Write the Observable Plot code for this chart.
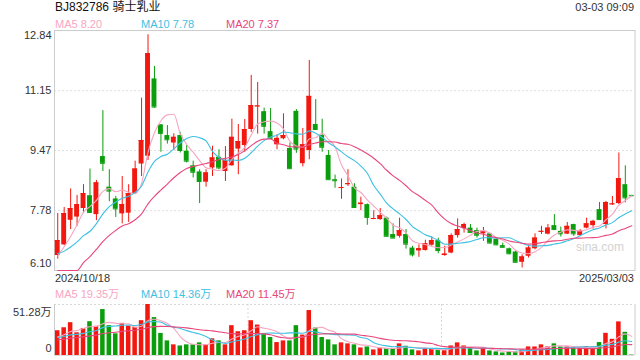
<!DOCTYPE html>
<html><head><meta charset="utf-8">
<script src="https://cdn.jsdelivr.net/npm/d3@7"></script>
<script src="https://cdn.jsdelivr.net/npm/@observablehq/plot@0.6"></script>
<style>
body{margin:0;background:#fff;}
#wrap{position:relative;width:640px;height:360px;overflow:hidden;background:#fff;}
#wrap svg{position:absolute;left:0;}
</style></head><body><div id="wrap"></div>
<script>
// ---- data ----
const opens  = [6.52,6.82,7.51,7.60,7.84,8.20,7.67,9.30,8.44,8.11, 7.69,7.71,8.26,9.09,9.31,11.48,10.19,9.89,9.68,9.89, 9.45,9.04,8.87,8.58,8.98,9.28,8.88,9.04,9.51,9.61, 10.06,10.70,10.56,10.00,9.63,9.80,9.53,10.57,9.10,9.47, 10.20,9.89,9.33,8.65,8.41,8.51,8.44,7.95,7.95,7.54, 7.53,7.57,7.11,7.06,7.11,6.73,6.65,6.66,6.81,6.94, 6.52,6.59,7.08,7.28,7.29,7.22,7.13,7.13,6.97,6.80, 6.71,6.62,6.33,6.50,6.71,7.18,7.12,7.36,7.20,7.12, 7.39,7.08,7.29,7.36,7.81,7.39,7.95,7.98,8.51,8.21];
const highs  = [7.70,7.87,8.39,8.21,8.51,8.95,8.63,10.59,8.93,8.18, 8.74,8.51,9.17,10.94,12.72,11.83,10.20,10.17,9.94,9.98, 9.61,9.17,8.93,8.93,9.59,9.49,9.58,10.35,10.20,10.34, 11.58,11.38,10.66,10.65,9.91,10.50,9.68,10.62,10.09,12.00, 10.90,10.35,9.47,8.78,8.67,8.93,8.54,8.16,7.97,7.78, 7.84,7.60,7.41,7.57,7.25,6.78,6.82,6.95,7.04,7.01, 6.78,7.13,7.55,7.43,7.39,7.29,7.31,7.15,6.98,6.87, 6.73,6.64,6.54,6.80,7.13,7.34,7.39,7.67,7.32,7.45, 7.40,7.25,7.57,7.51,8.01,8.04,8.18,9.40,9.04,8.21];
const lows   = [6.42,6.80,7.25,7.34,7.71,7.71,7.50,8.88,8.03,7.59, 7.41,7.45,8.23,8.74,9.19,10.66,9.42,9.65,9.47,9.40, 9.12,8.70,7.98,8.44,8.74,8.93,8.60,9.03,8.79,9.42, 9.98,9.93,9.93,9.79,9.49,9.77,8.95,9.39,9.01,9.21, 10.05,9.42,8.64,8.41,8.10,8.46,7.85,7.78,7.37,7.53, 7.51,7.05,7.00,7.01,6.70,6.48,6.47,6.65,6.78,6.57, 6.50,6.57,7.01,7.15,7.15,7.01,6.92,6.85,6.80,6.74, 6.54,6.31,6.17,6.45,6.68,7.11,7.10,7.23,7.04,7.11, 7.06,7.06,7.27,7.26,7.51,7.27,7.93,7.95,8.00,8.19];
const closes = [6.94,7.70,7.84,7.95,8.26,7.73,8.56,9.11,8.33,7.83, 7.95,8.26,8.95,9.75,12.19,10.69,9.95,9.77,9.84,9.47, 9.17,8.86,8.60,8.84,9.26,8.98,9.18,9.84,9.72,10.06, 10.73,10.72,10.15,9.81,9.81,9.89,8.96,9.51,9.63,10.99, 10.06,9.56,8.65,8.62,8.43,8.54,7.87,7.99,7.59,7.56, 7.64,7.06,7.01,7.22,6.84,6.54,6.71,6.85,6.94,6.66, 6.56,7.08,7.25,7.39,7.17,7.09,7.20,6.87,6.82,6.75, 6.57,6.33,6.48,6.73,7.01,7.20,7.29,7.25,7.13,7.34, 7.13,7.20,7.41,7.48,7.53,8.01,7.97,8.68,8.14,8.20];
// volumes in 万 shares
const volumes = [24.9,27.9,33.0,22.8,27.2,34.0,29.3,46.2,30.0,21.8, 32.3,29.6,28.3,35.0,51.28,38.1,22.2,14.7,10.7,9.6, 10.7,10.7,12.7,10.7,16.8,14.7,10.7,30.0,23.9,24.9, 35.0,30.6,22.2,18.1,13.0,14.7,14.7,30.0,20.5,45.2, 27.6,18.1,15.7,10.7,12.7,11.7,10.7,7.6,8.6,5.6, 6.9,6.9,6.9,11.7,9.3,5.6,4.6,6.9,6.9,5.6, 4.9,9.6,12.7,9.6,6.9,4.6,6.9,4.6,3.6,2.5, 3.6,3.6,5.6,8.6,8.6,10.7,8.6,11.7,8.6,8.6, 7.2,7.2,8.9,8.4,13.0,22.3,16.3,33.8,23.3,0.45];
// closes / volumes before the first visible day (estimated from where the MA lines start)
const priorCloses  = [4.0,4.0,4.0,3.8,4.3,4.5,4.8,4.8,5.0,5.5, 7.0,6.7,6.5,6.5,6.5,6.4,6.4,6.3,6.5];
const priorVolumes = [12,12,13,13,14,13,14,14,14,14, 16,17,18,17,18,17,17,18,17];
const yTicks = [12.84, 11.15, 9.47, 7.78, 6.10];
const volTicks = [51.28, 0];
const volTickLabels = ["51.28万", "0"];
const dateLabels = ["2024/10/18", "2025/03/03"];
const title = "BJ832786 骑士乳业";
const timeLabel = "03-03 09:09";
const priceLegend = [["MA5", "8.20"], ["MA10", "7.78"], ["MA20", "7.37"]];
const volLegend = [["MA5", "19.35万"], ["MA10", "14.36万"], ["MA20", "11.45万"]];
const maPeriods = [5, 10, 20];
const watermark = "sina.com";

// ---- style ----
const FONT = '"Liberation Sans", Arial, "Noto Sans CJK SC", sans-serif';
const RED = "#f2180f", GREEN = "#0a9e0c";
const MA_COLORS = ["#f7a6c2", "#3ec1e2", "#e9467c"];
const HW = 0.38;
const N = closes.length;

const candles = closes.map((c, i) => ({i, open: opens[i], high: highs[i], low: lows[i], close: c, vol: volumes[i]}));
const colorOf = d => d.close >= d.open ? RED : GREEN;
const priceSeries = [...priorCloses.map((c, k) => ({i: k - priorCloses.length, close: c})), ...candles];
const volSeries = [...priorVolumes.map((v, k) => ({i: k - priorVolumes.length, vol: v})), ...candles];

function onlyVisible(opts) {
  const t = opts.transform;
  return {...opts, transform(data, facets, o) {
    const r = t ? t(data, facets, o) : {data, facets};
    return {data: r.data, facets: r.facets.map(f => Array.from(f).filter(j => r.data[j].i >= 0))};
  }};
}
function maLines(series, field) {
  return maPeriods.map((k, n) => Plot.lineY(series, onlyVisible(Plot.windowY({k, anchor: "end"}, {
    x: "i", y: field, stroke: MA_COLORS[n], strokeWidth: 1.1, curve: "monotone-x"
  }))));
}

const wrap = document.getElementById("wrap");

// ---- price panel ----
const price = Plot.plot({
  width: 640, height: 270, marginTop: 30, marginBottom: 0, marginLeft: 54, marginRight: 5.5,
  x: {domain: [-0.5, N - 0.5], axis: null},
  y: {domain: [yTicks[yTicks.length - 1], yTicks[0]], clamp: true, axis: null},
  color: {type: "identity"},
  style: {fontFamily: FONT, fontSize: "11px", color: "#333", background: "transparent", overflow: "visible"},
  marks: [
    Plot.ruleY(yTicks.slice(1, -1), {stroke: "#e0e0e0", strokeDasharray: "2,2"}),
    Plot.frame({stroke: "#cccccc"}),
    Plot.ruleX(candles, {x: "i", y1: "low", y2: "high", stroke: colorOf, strokeWidth: 1}),
    Plot.rect(candles, {x1: d => d.i - HW, x2: d => d.i + HW, y1: "open", y2: "close", fill: colorOf}),
    Plot.ruleY(candles, {y: "close", x1: d => d.i - HW, x2: d => d.i + HW, stroke: colorOf}),
    ...maLines(priceSeries, "close"),
    Plot.text(yTicks.slice(1, -1), {y: d => d, text: d => d.toFixed(2), frameAnchor: "left", textAnchor: "end", dx: -3, fill: "#333"}),
    Plot.text([yTicks[0]], {y: d => d, text: d => d.toFixed(2), frameAnchor: "left", textAnchor: "end", dx: -3, dy: 5, fill: "#333"}),
    Plot.text([yTicks[yTicks.length - 1]], {y: d => d, text: d => d.toFixed(2), frameAnchor: "left", textAnchor: "end", dx: -3, dy: -7, fill: "#333"}),
    Plot.text([watermark], {text: d => d, frameAnchor: "bottom-right", textAnchor: "end", dx: -11, dy: -20, fill: "#d2d2d2", fontSize: 12})
  ]
});
price.style.top = "0px";
wrap.appendChild(price);

// ---- volume panel ----
const vol = Plot.plot({
  width: 640, height: 75, marginTop: 19, marginBottom: 5, marginLeft: 54, marginRight: 5.5,
  x: {domain: [-0.5, N - 0.5], axis: null},
  y: {domain: [0, volTicks[0]], clamp: true, axis: null},
  color: {type: "identity"},
  style: {fontFamily: FONT, fontSize: "11px", color: "#333", background: "transparent", overflow: "visible"},
  marks: [
    Plot.ruleX([29.5, 59.5], {stroke: "#d8d8d8", strokeDasharray: "2,2"}),
    Plot.ruleY([volTicks[0]], {stroke: "#d8d8d8", strokeDasharray: "2,2"}),
    Plot.ruleX([-0.5, N - 0.5], {stroke: "#cccccc"}),
    Plot.rect(candles, {x1: d => d.i - 0.35, x2: d => d.i + 0.35, y1: 0, y2: "vol", fill: colorOf}),
    ...maLines(volSeries, "vol"),
    Plot.ruleY([0], {stroke: "#dddddd"}),
    Plot.text([0], {y: d => volTicks[d], text: d => volTickLabels[d], frameAnchor: "left", textAnchor: "end", dx: -3, dy: 8, fill: "#333"}),
    Plot.text([1], {y: d => volTicks[d], text: d => volTickLabels[d], frameAnchor: "left", textAnchor: "end", dx: -3, dy: -7, fill: "#333"})
  ]
});
vol.style.top = "285px";
wrap.appendChild(vol);

// ---- header / legend texts ----
const svg = d3.select(wrap).append("svg").attr("width", 640).attr("height", 360)
  .style("top", "0px").style("pointer-events", "none").style("font-family", FONT);
svg.append("text").attr("x", 55).attr("y", 11).attr("font-size", 12).attr("fill", "#111").text(title);
svg.append("text").attr("x", 634).attr("y", 11).attr("font-size", 11).attr("text-anchor", "end").attr("fill", "#333").text(timeLabel);
const legendX = [55, 141, 226];
priceLegend.forEach(([n, v], k) => svg.append("text").attr("x", legendX[k]).attr("y", 28).attr("font-size", 11).attr("fill", MA_COLORS[k]).text(n + " " + v));
volLegend.forEach(([n, v], k) => svg.append("text").attr("x", legendX[k]).attr("y", 298).attr("font-size", 11).attr("fill", MA_COLORS[k]).text(n + " " + v));
svg.append("text").attr("x", 55).attr("y", 281.5).attr("font-size", 11).attr("fill", "#333").text(dateLabels[0]);
svg.append("text").attr("x", 634).attr("y", 281.5).attr("font-size", 11).attr("text-anchor", "end").attr("fill", "#333").text(dateLabels[1]);
</script></body></html>
